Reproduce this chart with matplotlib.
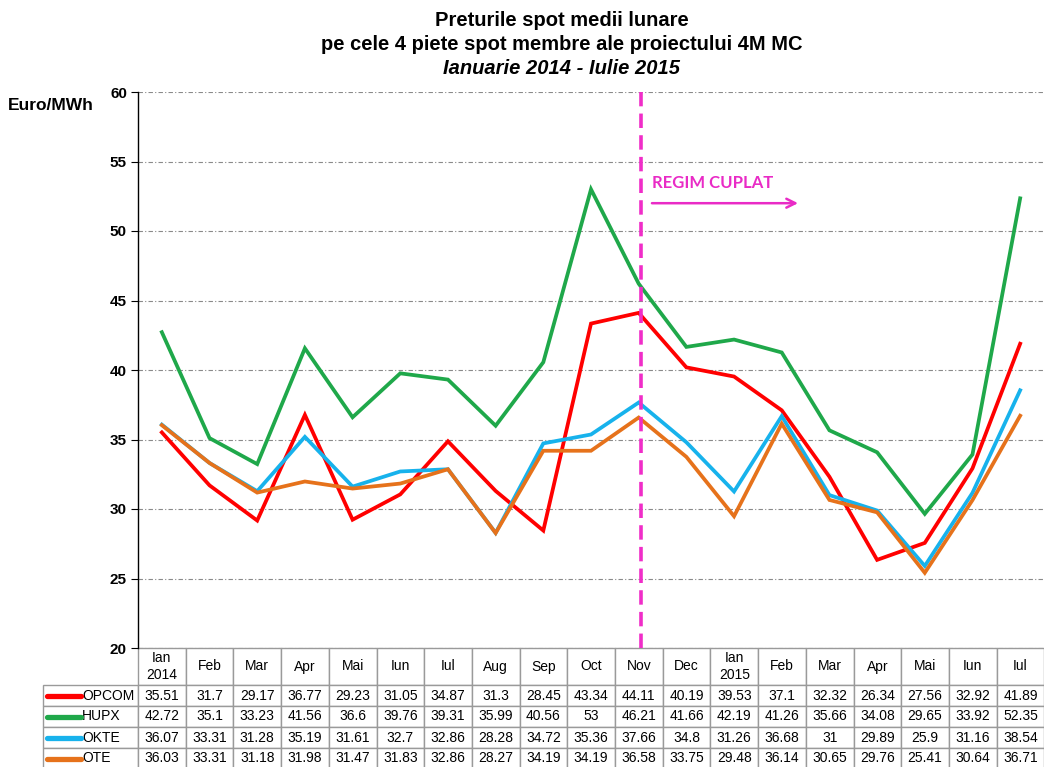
import matplotlib
matplotlib.use("Agg")
import matplotlib.pyplot as plt
from matplotlib.lines import Line2D

plt.rcParams["font.family"] = ["Liberation Sans", "DejaVu Sans"]

MONTHS = ["Ian\n2014", "Feb", "Mar", "Apr", "Mai", "Iun", "Iul", "Aug", "Sep", "Oct",
          "Nov", "Dec", "Ian\n2015", "Feb", "Mar", "Apr", "Mai", "Iun", "Iul"]

OPCOM = [35.51, 31.7, 29.17, 36.77, 29.23, 31.05, 34.87, 31.3, 28.45, 43.34,
         44.11, 40.19, 39.53, 37.1, 32.32, 26.34, 27.56, 32.92, 41.89]
HUPX = [42.72, 35.1, 33.23, 41.56, 36.6, 39.76, 39.31, 35.99, 40.56, 53,
        46.21, 41.66, 42.19, 41.26, 35.66, 34.08, 29.65, 33.92, 52.35]
OKTE = [36.07, 33.31, 31.28, 35.19, 31.61, 32.7, 32.86, 28.28, 34.72, 35.36,
        37.66, 34.8, 31.26, 36.68, 31, 29.89, 25.9, 31.16, 38.54]
OTE = [36.03, 33.31, 31.18, 31.98, 31.47, 31.83, 32.86, 28.27, 34.19, 34.19,
       36.58, 33.75, 29.48, 36.14, 30.65, 29.76, 25.41, 30.64, 36.71]

SERIES = ["OPCOM", "HUPX", "OKTE", "OTE"]
COLORS = ["#FF0000", "#1FA84A", "#17B2EC", "#E6721B"]
COUPLING_IDX = 10  # Nov 2014

W, H = 1044, 767
fig = plt.figure(figsize=(W / 100, H / 100), dpi=100)
ax = fig.add_axes([138 / W, 1 - 648 / H, (W - 138) / W, (648 - 92) / H])

x = list(range(len(MONTHS)))
for name, vals, col in zip(SERIES, [OPCOM, HUPX, OKTE, OTE], COLORS):
    ax.plot(x, vals, color=col, lw=2.7, solid_joinstyle="miter", zorder=3, label=name)

ax.set_xlim(-0.5, len(MONTHS) - 0.5)
ax.set_ylim(20, 60)
ax.set_yticks(range(20, 61, 5))
ax.set_xticks([])
ax.tick_params(axis="y", length=5, width=0.8, pad=3, labelsize=11)
for lab in ax.get_yticklabels():
    lab.set_fontweight("bold")
ax.yaxis.grid(True, color="#8a8a8a", lw=0.8, linestyle=(0, (4, 2, 1, 2)))
ax.set_axisbelow(True)
for s in ["top", "right", "bottom"]:
    ax.spines[s].set_visible(False)
ax.spines["left"].set_linewidth(1.0)

# coupling marker
ax.axvline(COUPLING_IDX + 0.05, color="#F02DC8", lw=2.6, dashes=(4, 2), zorder=4)
ax.text(10.28, 53.45, "REGIM CUPLAT", color="#E92BC6", fontsize=12,
        fontweight="bold", family=["Lato", "DejaVu Sans"], va="center", ha="left")
ax.annotate("", xy=(13.4, 52.0), xytext=(10.22, 52.0),
            arrowprops=dict(arrowstyle="->", color="#E92BC6", lw=1.8,
                            mutation_scale=16))

# data table
cell_text = [[f"{v:g}" for v in vals] for vals in [OPCOM, HUPX, OKTE, OTE]]
col_w = 47.7
lab_w = 102
grid_w = col_w * len(MONTHS)
tbl_h = 767 - 648 + 2
ax_w = W - 138
ax_h = 648 - 92
table = ax.table(cellText=cell_text, rowLabels=SERIES, colLabels=MONTHS,
                 cellLoc="center",
                 bbox=[0, -tbl_h / ax_h, grid_w / ax_w, tbl_h / ax_h])
table.auto_set_font_size(False)
table.set_fontsize(10)
for (r, c), cell in table.get_celld().items():
    cell.set_edgecolor("#9a9a9a")
    cell.set_linewidth(1.0)
    cell.set_height(37 if r == 0 else 21)
    cell.set_width(lab_w if c == -1 else col_w)
    if c == -1:
        cell._loc = "left"
        cell.PAD = 0.41
        cell.get_text().set_ha("left")

# legend keys inside the row label cells
fig.canvas.draw()
renderer = fig.canvas.get_renderer()
for i, col in enumerate(COLORS):
    bb = table[(i + 1, -1)].get_window_extent(renderer)
    yc = (bb.y0 + bb.y1) / 2 / H
    x0 = (bb.x0 + 4) / W
    x1 = (bb.x0 + 38) / W
    fig.add_artist(Line2D([x0, x1], [yc, yc], color=col, lw=3.8,
                          solid_capstyle="round", transform=fig.transFigure))

# titles
fig.text(0.538, 1 - 20 / H, "Preturile spot medii lunare", ha="center", va="center",
         fontsize=14.5, fontweight="bold")
fig.text(0.538, 1 - 45 / H, "pe cele 4 piete spot membre ale proiectului 4M MC",
         ha="center", va="center", fontsize=14.5, fontweight="bold")
fig.text(0.538, 1 - 69 / H, "Ianuarie 2014 - Iulie 2015", ha="center", va="center",
         fontsize=14.5, fontweight="bold", style="italic")
fig.text(8 / W, 1 - 105 / H, "Euro/MWh", ha="left", va="center",
         fontsize=12.5, fontweight="bold")

fig.savefig("out.png", dpi=100)
